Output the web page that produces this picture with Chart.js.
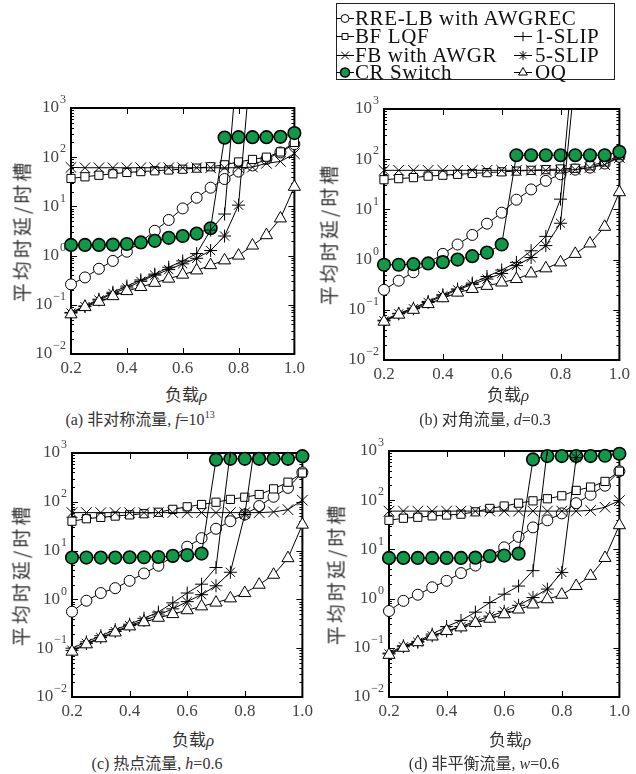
<!DOCTYPE html>
<html>
<head>
<meta charset="utf-8">
<script src="https://cdn.jsdelivr.net/npm/chart.js@4.4.0/dist/chart.umd.min.js"></script>
<style>
  body { margin: 0; width: 636px; height: 774px; background: #fff; position: relative; overflow: hidden; }
  canvas { position: absolute; }
  .t { position: absolute; white-space: nowrap; color: #333; transform: translate(-50%, -50%); }
  .ytitle { font-family: "Noto Sans CJK SC"; font-size: 19px; letter-spacing: 3px; transform: translate(-50%, -50%) rotate(-90deg); }
  .xtitle { font-family: "Noto Sans CJK SC"; font-size: 17px; }
  .xtitle i, .cap i { font-family: "Liberation Serif"; }
  .cap { font-family: "Liberation Serif", "Noto Sans CJK SC"; font-size: 16px; }
  .cap sup { font-size: 10px; vertical-align: 7px; }
  #legend { position: absolute; left: 336px; top: 3px; width: 279px; height: 77px; border: 1px solid #222; box-sizing: border-box; }
  .lg { position: absolute; font-family: "Liberation Serif"; font-size: 21px; line-height: 20px; letter-spacing: 0.6px; color: #111; white-space: nowrap; }
</style>
</head>
<body>
<div id="legend"></div>

<script>
// loads on the x axis
const loads = [0.2, 0.25, 0.3, 0.35, 0.4, 0.45, 0.5, 0.55, 0.6, 0.65, 0.7, 0.75, 0.8, 0.85, 0.9, 0.95, 1.0];
const seriesNames = ['RRE-LB with AWGREC', 'BF LQF', 'FB with AWGR', 'CR Switch', '1-SLIP', '5-SLIP', 'OQ'];
const xTickValues = [0.2, 0.4, 0.6, 0.8, 1.0];
const yTickPowers = [-2, -1, 0, 1, 2, 3];

// (a) 非对称流量
const rreA = [0.26, 0.36, 0.54, 0.78, 1.2, 1.9, 3.2, 5.3, 9.1, 15, 24, 36, 51, 68, 92, 125, 185];
const bfA = [37, 40, 43, 46, 49, 51, 53, 55, 57, 60, 64, 70, 80, 90, 100, 128, 200];
const fbA = [62, 61, 61, 61, 61, 61, 61, 61, 61, 61, 61, 61, 61, 63, 75, 82, 118];
const crA = [1.65, 1.65, 1.65, 1.67, 1.72, 1.85, 2.0, 2.3, 2.5, 2.8, 3.6, 250, 255, 255, 255, 260, 310];
const slip1A = [0.07, 0.095, 0.13, 0.18, 0.24, 0.32, 0.42, 0.58, 0.78, 1.1, 3.3, 7.0, 16000];
const slip5A = [0.068, 0.092, 0.125, 0.17, 0.22, 0.3, 0.4, 0.52, 0.68, 0.88, 1.27, 2.5, 10.6, 20000];
const oqA = [0.064, 0.09, 0.115, 0.15, 0.19, 0.23, 0.28, 0.34, 0.41, 0.5, 0.64, 0.8, 1.0, 1.6, 2.6, 5.7, 25];

// (b) 对角流量
const rreB = [0.25, 0.38, 0.56, 0.86, 1.3, 2.0, 3.1, 5.2, 8.6, 15.6, 25, 37, 50, 62, 68, 82, 112];
const bfB = [39, 41, 43, 46, 48, 50, 52, 54, 56, 58, 60, 62, 64, 66, 74, 88, 118];
const fbB = [60, 60, 60, 60, 60, 60, 60, 60, 60, 60, 60, 60, 60, 62, 68, 78, 108];
const crB = [0.79, 0.79, 0.81, 0.84, 0.89, 1.0, 1.17, 1.38, 2.0, 120, 120, 120, 120, 120, 120, 120, 140];
const slip1B = [0.062, 0.085, 0.108, 0.147, 0.2, 0.26, 0.34, 0.46, 0.62, 0.88, 1.5, 2.9, 16, 25000];
const slip5B = [0.06, 0.083, 0.105, 0.14, 0.19, 0.25, 0.32, 0.41, 0.53, 0.76, 1.1, 1.9, 5.3, 5000];
const oqB = [0.058, 0.08, 0.1, 0.13, 0.17, 0.22, 0.26, 0.3, 0.35, 0.41, 0.53, 0.67, 0.88, 1.3, 2.1, 4.5, 22];

// (c) 热点流量
const rreC = [0.56, 0.94, 1.35, 1.7, 2.4, 3.4, 4.9, 7.5, 12, 18, 28, 40, 55, 82, 127, 193, 400];
const bfC = [40, 45, 48, 51, 54, 57, 61, 70, 79, 88, 98, 112, 124, 141, 184, 252, 390];
const fbC = [60, 60, 60, 60, 60, 60, 60, 60, 60, 60, 60, 60, 60, 60, 62, 69, 108];
const crC = [7.2, 7.2, 7.2, 7.2, 7.3, 7.3, 7.4, 7.8, 8.1, 8.7, 730, 760, 760, 760, 760, 760, 860];
const slip1C = [0.1, 0.135, 0.18, 0.24, 0.31, 0.41, 0.55, 0.85, 1.35, 2.05, 4.5, 1100];
const slip5C = [0.09, 0.125, 0.165, 0.22, 0.29, 0.37, 0.48, 0.64, 0.9, 1.25, 1.9, 3.6, 55, 6000];
const oqC = [0.085, 0.12, 0.16, 0.21, 0.28, 0.34, 0.42, 0.5, 0.6, 0.72, 0.86, 1.05, 1.35, 2.0, 3.2, 7.0, 34];

// (d) 非平衡流量
const rreD = [0.56, 0.9, 1.2, 1.7, 2.3, 3.3, 4.7, 7.2, 11, 18, 28, 39, 54, 87, 129, 197, 388];
const bfD = [39, 43, 45, 48, 50, 52, 58, 68, 76, 87, 97, 107, 123, 158, 185, 241, 388];
const fbD = [60, 60, 60, 60, 60, 60, 60, 60, 60, 60, 60, 60, 60, 60, 62, 72, 98];
const crD = [6.7, 6.7, 6.7, 6.7, 6.7, 6.7, 6.8, 7.3, 7.5, 8.2, 675, 790, 790, 790, 790, 800, 880];
const slip1D = [0.078, 0.11, 0.135, 0.19, 0.27, 0.36, 0.53, 0.83, 1.23, 1.8, 3.7, 1100];
const slip5D = [0.075, 0.105, 0.13, 0.175, 0.22, 0.27, 0.35, 0.44, 0.55, 0.73, 1.05, 1.56, 3.4, 730];
const oqD = [0.072, 0.1, 0.13, 0.17, 0.22, 0.26, 0.32, 0.39, 0.48, 0.6, 0.76, 0.97, 1.2, 1.8, 2.9, 6.7, 31];

const GREEN = '#0e9a48';
const markerStyles = [
  { pointStyle: 'circle', radius: 5.5, fill: '#fff', bw: 1 },
  { pointStyle: 'rect', radius: 5.8, fill: '#fff', bw: 1 },
  { pointStyle: 'crossRot', radius: 7.5, fill: '#fff', bw: 1 },
  { pointStyle: 'circle', radius: 6.3, fill: GREEN, bw: 1.6 },
  { pointStyle: 'cross', radius: 6.5, fill: '#fff', bw: 1 },
  { pointStyle: 'star', radius: 6.5, fill: '#fff', bw: 1 },
  { pointStyle: 'triangle', radius: 7, fill: '#fff', bw: 1 }
];
// SLIP curves leave the plot through the top edge, so they get no clip margin there
const slipIndex = [4, 5];

// chart area boxes [left, top, right, bottom] in page pixels
const panels = [
  { series: [rreA, bfA, fbA, crA, slip1A, slip5A, oqA], box: [71, 108, 297, 354],
    ytitle: [21, 231], xtitle: [186, 393], cap: [140, 418], capHtml: '(a) 非对称流量, <i>f</i>=10<sup>13</sup>' },
  { series: [rreB, bfB, fbB, crB, slip1B, slip5B, oqB], box: [384, 109, 622, 360],
    ytitle: [328, 234], xtitle: [508, 393], cap: [485, 418], capHtml: '(b) 对角流量, <i>d</i>=0.3' },
  { series: [rreC, bfC, fbC, crC, slip1C, slip5C, oqC], box: [72, 453, 305, 697],
    ytitle: [20, 575], xtitle: [193, 738], cap: [157, 762], capHtml: '(c) 热点流量, <i>h</i>=0.6' },
  { series: [rreD, bfD, fbD, crD, slip1D, slip5D, oqD], box: [389, 451, 622, 697],
    ytitle: [335, 574], xtitle: [510, 738], cap: [484, 762], capHtml: '(d) 非平衡流量, <i>w</i>=0.6' }
];

const Y_AXIS_W = 60, PAD_TOP = 20, PAD_RIGHT = 12, X_AXIS_H = 26;

const framePlugin = {
  id: 'frame',
  beforeDatasetsDraw(chart) {
    const { ctx, chartArea: a, scales: { x, y } } = chart;
    ctx.save();
    ctx.strokeStyle = '#000';
    ctx.lineWidth = 1;
    ctx.beginPath();
    yTickPowers.forEach(p => {
      if (p === 3) return;
      for (let m = 1; m <= 9; m++) {
        const py = Math.round(y.getPixelForValue(m * Math.pow(10, p))) + 0.5;
        const len = m === 1 ? 6 : 3;
        ctx.moveTo(a.left, py); ctx.lineTo(a.left + len, py);
        ctx.moveTo(a.right, py); ctx.lineTo(a.right - len, py);
      }
    });
    xTickValues.forEach(v => {
      const px = Math.round(x.getPixelForValue(v)) + 0.5;
      ctx.moveTo(px, a.bottom); ctx.lineTo(px, a.bottom - 6);
      ctx.moveTo(px, a.top); ctx.lineTo(px, a.top + 6);
    });
    ctx.stroke();
    ctx.lineWidth = 2;
    ctx.strokeRect(a.left, a.top, a.right - a.left, a.bottom - a.top);
    ctx.restore();
  },
  afterDraw(chart) {
    const { ctx, chartArea: a, scales: { y } } = chart;
    ctx.save();
    ctx.fillStyle = '#444';
    ctx.textBaseline = 'middle';
    ctx.textAlign = 'right';
    yTickPowers.forEach(p => {
      const py = y.getPixelForValue(Math.pow(10, p));
      const exp = p < 0 ? '\u2212' + (-p) : String(p);
      const xr = a.left - 5;
      ctx.font = '12px "Liberation Serif"';
      const ew = ctx.measureText(exp).width;
      ctx.fillText(exp, xr, py - 8);
      ctx.font = '17px "Liberation Serif"';
      ctx.fillText('10', xr - ew - 1, py);
    });
    ctx.restore();
  }
};

function addText(cls, pos, html) {
  const d = document.createElement('div');
  d.className = 't ' + cls;
  d.style.left = pos[0] + 'px';
  d.style.top = pos[1] + 'px';
  d.innerHTML = html;
  document.body.appendChild(d);
}

panels.forEach(p => {
  const [L, T, R, B] = p.box;
  const canvas = document.createElement('canvas');
  canvas.width = Y_AXIS_W + (R - L) + PAD_RIGHT;
  canvas.height = PAD_TOP + (B - T) + X_AXIS_H;
  canvas.style.left = (L - Y_AXIS_W) + 'px';
  canvas.style.top = (T - PAD_TOP) + 'px';
  document.body.appendChild(canvas);

  const datasets = p.series.map((vals, i) => {
    const st = markerStyles[i];
    return {
      label: seriesNames[i],
      data: loads.map((x, j) => ({ x, y: vals[j] === undefined ? null : vals[j] })),
      borderColor: '#000',
      borderWidth: 1,
      backgroundColor: st.fill,
      pointStyle: st.pointStyle,
      pointRadius: st.radius,
      pointHoverRadius: st.radius,
      pointBorderWidth: st.bw,
      pointBorderColor: '#000',
      pointBackgroundColor: st.fill,
      tension: 0,
      fill: false,
      clip: { left: 10, right: 10, bottom: 10, top: slipIndex.includes(i) ? 0 : 10 },
      order: -i
    };
  });

  new Chart(canvas.getContext('2d'), {
    type: 'line',
    data: { datasets },
    options: {
      responsive: false,
      animation: false,
      devicePixelRatio: 1,
      events: [],
      layout: { padding: { left: 0, top: PAD_TOP, right: PAD_RIGHT, bottom: 0 } },
      plugins: { legend: { display: false }, tooltip: { enabled: false } },
      scales: {
        x: {
          type: 'linear', min: 0.2, max: 1.0,
          grid: { display: false, drawTicks: false },
          border: { display: false },
          ticks: {
            stepSize: 0.2, autoSkip: false, maxRotation: 0, padding: 4,
            color: '#444', font: { family: 'Liberation Serif', size: 17 },
            callback: v => Number(v).toFixed(1)
          },
          afterFit: s => { s.height = X_AXIS_H; }
        },
        y: {
          type: 'logarithmic', min: 0.01, max: 1000,
          grid: { display: false, drawTicks: false },
          border: { display: false },
          ticks: { display: false },
          afterFit: s => { s.width = Y_AXIS_W; }
        }
      }
    },
    plugins: [framePlugin]
  });

  addText('ytitle', p.ytitle, '平均时延/时槽');
  addText('xtitle', p.xtitle, '负载<i>ρ</i>');
  addText('cap', p.cap, p.capHtml);
});

// legend: two columns, markers drawn with Chart.js point helpers
const legendPos = [
  [345, 18, 355], [345, 36, 355], [345, 55, 355], [345, 72, 355],
  [523, 36, 535], [523, 55, 535], [523, 72, 535]
];
const legend = document.getElementById('legend');
seriesNames.forEach((name, i) => {
  const [cx, cy, tx] = legendPos[i];
  const c = document.createElement('canvas');
  c.width = 22; c.height = 16;
  c.style.left = (cx - 11 - 337) + 'px';
  c.style.top = (cy - 8 - 4) + 'px';
  legend.appendChild(c);
  const g = c.getContext('2d');
  g.strokeStyle = '#000';
  g.lineWidth = 1;
  g.beginPath(); g.moveTo(2, 8.5); g.lineTo(20, 8.5); g.stroke();
  const st = markerStyles[i];
  g.fillStyle = st.fill;
  g.lineWidth = st.bw;
  if (Chart.helpers && Chart.helpers.drawPoint) {
    Chart.helpers.drawPoint(g, { pointStyle: st.pointStyle, rotation: 0, radius: st.radius * 0.72, borderWidth: st.bw }, 11, 8.5);
  }
  const t = document.createElement('div');
  t.className = 'lg';
  t.style.left = (tx - 337) + 'px';
  t.style.top = (cy - 10 - 4) + 'px';
  t.textContent = name;
  legend.appendChild(t);
});
</script>
</body>
</html>
